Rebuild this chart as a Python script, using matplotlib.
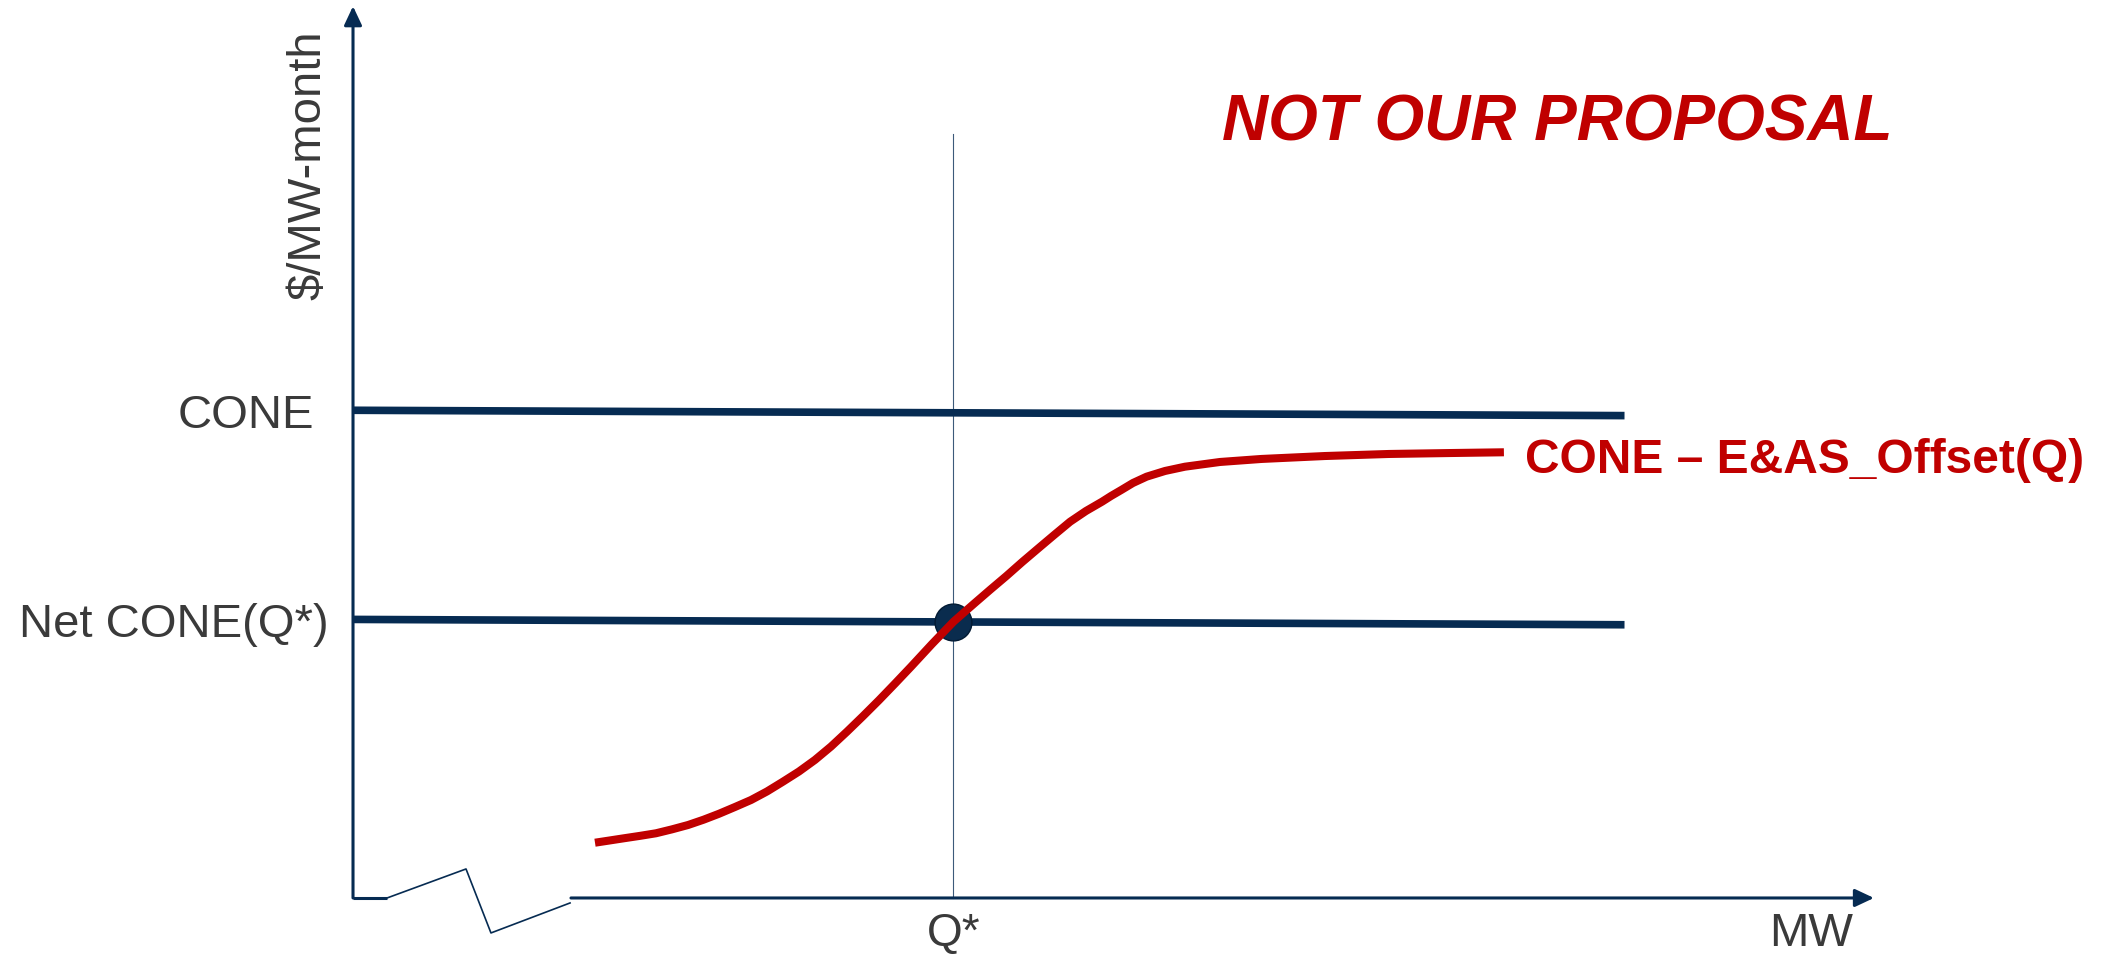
import matplotlib
matplotlib.use("Agg")
import matplotlib.pyplot as plt
from matplotlib.patches import FancyArrowPatch, ArrowStyle

plt.rcParams['font.family'] = ['Liberation Sans', 'DejaVu Sans']

# ---- data (MW on x, $/MW-month on y, arbitrary units) ----
line_x = [0.0, 83.6]
cone_y = [54.8, 54.2]
net_cone_y = [31.3, 30.7]
q_star = 39.48
q_star_price = 31.02
q_line_top = 85.8

offset_curve_x = [15.91, 16.83, 17.82, 18.87, 19.92, 20.97, 22.03, 23.04,
                  24.06, 25.11, 26.17, 27.22, 28.27, 29.32, 30.37, 31.43,
                  32.48, 33.53, 34.58, 35.63, 36.69, 38.07, 39.48, 40.17,
                  40.86, 41.91, 42.96, 44.00, 45.06, 46.10, 47.15, 48.19,
                  49.25, 49.84, 50.51, 51.28, 52.18, 53.39, 54.70, 57.00,
                  59.73, 63.91, 68.11, 72.32, 75.67]
offset_curve_y = [6.21, 6.45, 6.71, 6.98, 7.27, 7.71, 8.20, 8.79,
                  9.46, 10.22, 11.01, 11.97, 13.07, 14.21, 15.51, 17.02,
                  18.69, 20.43, 22.22, 24.08, 25.99, 28.54, 31.04, 32.08,
                  33.11, 34.66, 36.18, 37.75, 39.29, 40.79, 42.28, 43.48,
                  44.53, 45.17, 45.84, 46.63, 47.34, 47.98, 48.46, 48.99,
                  49.33, 49.66, 49.89, 50.00, 50.08]

# axis break (zig-zag) on the MW axis
break_x = [2.24, 7.43, 9.07, 14.27]
break_y = [0.0, 3.26, -3.93, -0.56]
x_axis_start = 14.33
x_axis_end = 100.0
y_axis_end = 100.2

NAVY = '#062B52'
RED = '#C00000'
GREY = '#3A3A3A'

fig = plt.figure(figsize=(21.03, 9.56), dpi=100)
ax = fig.add_axes([0, 0, 1, 1])
ax.set_xlim(-23.21, 115.06)
ax.set_ylim(-6.52, 100.90)
ax.axis('off')

# axes with arrowheads
head = ArrowStyle('-|>', head_length=11.5, head_width=5.4)
ax.add_patch(FancyArrowPatch((0, 0), (0, y_axis_end), arrowstyle=head,
                             mutation_scale=1, lw=2.2, color=NAVY,
                             shrinkA=0, shrinkB=0, zorder=3))
ax.add_patch(FancyArrowPatch((x_axis_start, 0), (x_axis_end, 0), arrowstyle=head,
                             mutation_scale=1, lw=2.2, color=NAVY,
                             shrinkA=0, shrinkB=0, zorder=3))
ax.plot([0, break_x[0]], [0, 0], color=NAVY, lw=2.2, solid_capstyle='butt', zorder=3)
ax.plot(break_x, break_y, color=NAVY, lw=1.2, zorder=3)

# CONE and Net CONE levels
ax.plot(line_x, cone_y, color=NAVY, lw=5.5, solid_capstyle='butt', zorder=2)
ax.plot(line_x, net_cone_y, color=NAVY, lw=5.5, solid_capstyle='butt', zorder=2)

# Q* marker line
ax.plot([q_star, q_star], [0, q_line_top], color='#3C5A7A', lw=0.8, zorder=1)

# equilibrium point
ax.plot([q_star], [q_star_price], marker='o', markersize=26.5,
        color='#0A2C4E', markeredgecolor='#021A33', markeredgewidth=1.0, zorder=4)

# CONE minus offset curve
ax.plot(offset_curve_x, offset_curve_y, color=RED, lw=5.8,
        solid_capstyle='butt', solid_joinstyle='round', zorder=5)

# labels
ax.text(-2.96, 82.36, '$/MW-month', rotation=90, ha='center', va='center',
        fontsize=34, color=GREY)
ax.text(-2.56, 52.81, 'CONE', ha='right', va='baseline', fontsize=34, color=GREY)
ax.text(-1.58, 29.33, 'Net CONE(Q*)', ha='right', va='baseline', fontsize=34, color=GREY)
ax.text(q_star, -5.45, 'Q*', ha='center', va='baseline', fontsize=33, color=GREY)
ax.text(95.9, -5.45, 'MW', ha='center', va='baseline', fontsize=34, color=GREY)
ax.text(77.05, 47.75, 'CONE \u2013 E&AS_Offset(Q)', ha='left', va='baseline',
        fontsize=34.5, fontweight='bold', color=RED)
ax.text(57.13, 85.06, 'NOT OUR PROPOSAL', ha='left', va='baseline',
        fontsize=46, fontweight='bold', fontstyle='italic', color=RED)

fig.savefig('out.png', dpi=100)
